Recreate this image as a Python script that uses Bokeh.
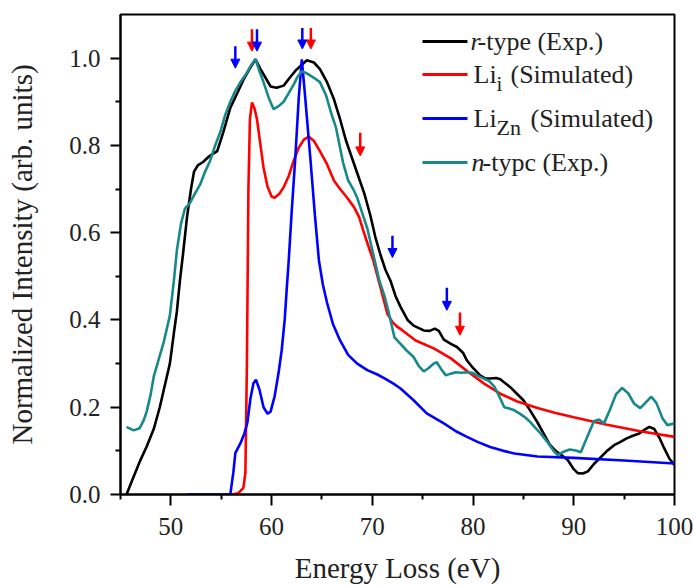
from bokeh.plotting import figure
from bokeh.models import (Arrow, NormalHead, Label, BoxAnnotation, ColumnDataSource,
                          Range1d, FixedTicker, NumeralTickFormatter)
from bokeh.embed import file_html
from bokeh.resources import INLINE

# ---------------- data ----------------
r_type_E = [45.6, 46.2, 47.0, 47.6, 48.3, 48.9, 49.5, 49.9, 50.3, 50.6, 50.9, 51.2, 51.6, 52.0,
            52.3, 52.7, 53.2, 53.8, 54.6, 55.2, 55.9, 56.6, 57.2, 57.8, 58.4, 58.9, 59.4, 59.9,
            60.5, 61.2, 61.8, 62.4, 63.0, 63.5, 64.2, 64.8, 65.5, 66.2, 66.8, 67.4, 68.0, 68.6,
            69.2, 69.8, 70.3, 70.8, 71.3, 71.8, 72.3, 72.8, 73.5, 74.1, 75.1, 75.7, 76.2, 76.6,
            77.1, 77.8, 78.4, 79.0, 79.4, 80.0, 80.7, 81.2, 81.7, 82.3, 82.7, 83.2, 83.7, 84.3,
            85.0, 85.6, 86.4, 87.0, 87.6, 88.2, 88.8, 89.4, 90.0, 90.4, 90.9, 91.4, 92.0, 92.7,
            93.3, 94.0, 94.6, 95.2, 95.8, 96.5, 97.0, 97.5, 98.0, 98.5, 99.0, 99.5, 100.0]
r_type_I = [0.0, 0.035, 0.08, 0.11, 0.15, 0.2, 0.26, 0.30, 0.37, 0.42, 0.49, 0.55, 0.635, 0.70,
            0.74, 0.755, 0.762, 0.775, 0.787, 0.83, 0.886, 0.92, 0.95, 0.975, 0.997, 0.975, 0.955, 0.935,
            0.932, 0.937, 0.955, 0.972, 0.985, 0.995, 0.99, 0.975, 0.945, 0.905, 0.86, 0.81, 0.77, 0.73,
            0.69, 0.64, 0.59, 0.55, 0.515, 0.49, 0.455, 0.43, 0.40, 0.387, 0.376, 0.375, 0.38, 0.375,
            0.355, 0.345, 0.338, 0.325, 0.307, 0.29, 0.273, 0.266, 0.266, 0.267, 0.264, 0.255, 0.246, 0.232,
            0.216, 0.195, 0.165, 0.14, 0.115, 0.10, 0.09, 0.079, 0.058, 0.049, 0.048, 0.053, 0.07, 0.086,
            0.10, 0.113, 0.12, 0.128, 0.134, 0.14, 0.148, 0.155, 0.15, 0.13, 0.105, 0.082, 0.068]

li_i_E = [56.0, 56.7, 57.2, 57.4, 57.55, 57.7, 57.85, 58.05, 58.3, 58.55, 58.9, 59.2, 59.6, 60.0,
          60.3, 60.8, 61.2, 61.7, 62.2, 62.7, 63.2, 63.7, 64.2, 64.8, 65.5, 66.2, 66.8, 67.5, 68.2,
          68.7, 69.1, 69.6, 70.1, 70.8, 71.5, 72.0, 72.5, 73.0, 74.3, 76.1, 77.8, 79.4, 81.1, 82.7,
          84.4, 86.4, 88.2, 90.0, 93.3, 96.6, 100.0]
li_i_I = [0.0, 0.003, 0.015, 0.05, 0.3, 0.7, 0.86, 0.898, 0.885, 0.86, 0.80, 0.749, 0.705, 0.683,
          0.68, 0.69, 0.704, 0.73, 0.765, 0.795, 0.813, 0.82, 0.81, 0.787, 0.757, 0.719, 0.70, 0.68, 0.658,
          0.635, 0.605, 0.57, 0.536, 0.475, 0.414, 0.395, 0.384, 0.376, 0.353, 0.335, 0.312, 0.283, 0.254, 0.231,
          0.213, 0.198, 0.187, 0.177, 0.16, 0.145, 0.132]

li_zn_E = [51.6, 55.9, 56.2, 56.4, 56.9, 57.3, 57.6, 57.9, 58.2, 58.45, 58.8, 59.2, 59.6, 59.9,
           60.3, 60.7, 61.0, 61.3, 61.5, 61.7, 62.0, 62.35, 62.7, 63.0, 63.3, 63.85, 64.3, 64.7,
           65.1, 65.5, 66.1, 66.8, 67.6, 68.5, 69.5, 70.5, 71.3, 72.1, 72.8, 74.1, 75.4, 77.1,
           78.3, 79.4, 80.5, 81.7, 83.0, 84.1, 86.4, 90.0, 95.0, 100.0]
li_zn_I = [0.0, 0.0, 0.05, 0.095, 0.117, 0.14, 0.165, 0.22, 0.255, 0.263, 0.24, 0.2, 0.185, 0.19,
           0.225, 0.28, 0.33, 0.40, 0.47, 0.536, 0.65, 0.77, 0.91, 0.997, 0.92, 0.77, 0.64, 0.536,
           0.48, 0.44, 0.39, 0.353, 0.32, 0.30, 0.285, 0.275, 0.265, 0.254, 0.243, 0.216, 0.186, 0.163,
           0.145, 0.132, 0.12, 0.109, 0.10, 0.094, 0.087, 0.084, 0.078, 0.071]

n_type_E = [45.6, 46.3, 46.9, 47.3, 47.6, 48.0, 48.3, 48.8, 49.3, 49.9, 50.3, 50.6, 51.0, 51.4,
            51.9, 52.4, 52.9, 53.4, 53.9, 54.4, 54.9, 55.4, 55.9, 56.4, 56.9, 57.5, 58.0, 58.4,
            58.8, 59.2, 59.7, 60.2, 60.7, 61.2, 61.7, 62.2, 62.6, 63.0, 63.5, 64.2, 64.8, 65.4,
            65.9, 66.4, 67.1, 67.6, 68.1, 68.5, 69.0, 69.5, 70.1, 70.7, 71.2, 71.6, 72.2, 72.8,
            73.4, 74.1, 74.6, 75.1, 75.6, 76.1, 76.4, 76.9, 77.3, 77.8, 78.3, 78.8, 79.4, 79.9,
            80.5, 81.0, 81.6, 82.1, 82.6, 83.1, 83.6, 84.1, 84.6, 85.1, 85.6, 86.1, 86.7, 87.4,
            88.0, 88.4, 89.0, 89.6, 90.2, 90.7, 91.3, 92.0, 92.5, 93.0, 93.6, 94.2, 94.8, 95.4,
            96.0, 96.6, 97.1, 97.7, 98.2, 98.8, 99.3, 100.0]
n_type_I = [0.155, 0.147, 0.152, 0.17, 0.19, 0.23, 0.27, 0.31, 0.35, 0.41, 0.49, 0.56, 0.62, 0.655,
            0.668, 0.69, 0.71, 0.74, 0.765, 0.80, 0.83, 0.87, 0.90, 0.925, 0.945, 0.965, 0.985, 0.998,
            0.97, 0.945, 0.91, 0.883, 0.89, 0.90, 0.92, 0.94, 0.958, 0.97, 0.965, 0.955, 0.945, 0.915,
            0.875, 0.84, 0.76, 0.72, 0.70, 0.68, 0.645, 0.61, 0.55, 0.49, 0.455, 0.42, 0.36, 0.345,
            0.33, 0.315, 0.295, 0.282, 0.29, 0.30, 0.303, 0.285, 0.273, 0.277, 0.28, 0.279, 0.28, 0.279,
            0.272, 0.266, 0.26, 0.248, 0.225, 0.20, 0.197, 0.193, 0.186, 0.178, 0.168, 0.155, 0.14, 0.12,
            0.10, 0.09, 0.098, 0.103, 0.101, 0.097, 0.13, 0.168, 0.172, 0.163, 0.195, 0.23, 0.244, 0.232,
            0.208, 0.198, 0.21, 0.224, 0.21, 0.175, 0.159, 0.163]

# feature-marker arrows: energy, top of arrow, tip of arrow, colour
arrow_E = [56.4, 58.05, 58.55, 63.05, 63.9, 68.8, 72.0, 77.4, 78.7]
arrow_top = [1.027, 1.066, 1.066, 1.069, 1.069, 0.829, 0.593, 0.474, 0.417]
arrow_tip = [0.977, 1.016, 1.016, 1.021, 1.021, 0.776, 0.543, 0.422, 0.365]
arrow_col = ["blue", "red", "blue", "blue", "red", "red", "blue", "blue", "red"]

x_ticks = [50, 60, 70, 80, 90, 100]
x_minor = [45, 55, 65, 75, 85, 95]
y_ticks = [0.0, 0.2, 0.4, 0.6, 0.8, 1.0]
y_minor = [0.1, 0.3, 0.5, 0.7, 0.9]

x_title = "Energy Loss (eV)"
y_title = "Normalized Intensity (arb. units)"

BLACK = "#000000"
RED = "#ff0000"
BLUE = "#0000ff"
TEAL = "#17898a"
FONT = "'Liberation Serif', 'Times New Roman', Times, serif"
TXT = "#222222"

p = figure(width=694, height=587, output_backend="svg", toolbar_location=None,
           x_range=Range1d(45, 100), y_range=Range1d(0, 1.1),
           min_border_left=120, min_border_right=20, min_border_top=14, min_border_bottom=93)
p.grid.visible = False
p.outline_line_color = "black"
p.outline_line_width = 2
p.background_fill_color = "white"
p.border_fill_color = "white"

p.line(r_type_E, r_type_I, line_color=BLACK, line_width=2.6)
p.line(li_i_E, li_i_I, line_color=RED, line_width=2.6)
p.line(li_zn_E, li_zn_I, line_color=BLUE, line_width=2.6)
p.line(n_type_E, n_type_I, line_color=TEAL, line_width=2.6)

for col, hexcol in (("red", RED), ("blue", BLUE)):
    idx = [i for i, c in enumerate(arrow_col) if c == col]
    src = ColumnDataSource(dict(x=[arrow_E[i] for i in idx],
                                y0=[arrow_top[i] for i in idx],
                                y1=[arrow_tip[i] for i in idx]))
    p.add_layout(Arrow(end=NormalHead(size=9, fill_color=hexcol, line_color=hexcol, line_width=1),
                       x_start="x", y_start="y0", x_end="x", y_end="y1", source=src,
                       line_color=hexcol, line_width=2.5))

# axes
xa = p.xaxis[0]
ya = p.yaxis[0]
xa.ticker = FixedTicker(ticks=x_ticks, minor_ticks=x_minor)
ya.ticker = FixedTicker(ticks=y_ticks, minor_ticks=y_minor)
ya.formatter = NumeralTickFormatter(format="0.0")
for ax in (xa, ya):
    ax.axis_line_width = 2
    ax.axis_line_color = "black"
    ax.major_tick_line_width = 2
    ax.minor_tick_line_width = 2
    ax.major_tick_in = 0
    ax.minor_tick_in = 0
    ax.minor_tick_out = 5
    ax.major_label_text_font = FONT
    ax.major_label_text_font_size = "25px"
    ax.major_label_text_color = TXT
    ax.axis_label_text_font = FONT
    ax.axis_label_text_font_size = "29px"
    ax.axis_label_text_font_style = "normal"
    ax.axis_label_text_color = TXT
xa.major_tick_out = 11
ya.major_tick_out = 10
xa.axis_label = x_title
ya.axis_label = y_title
xa.major_label_standoff = 12
ya.major_label_standoff = 10
xa.axis_label_standoff = 14
ya.axis_label_standoff = 28

# manual legend (screen units relative to the frame)
leg = [
    (BLACK, 453, [("r", 350, 0, "italic", 26), ("-type (Exp.)", 357, 0, "normal", 26)]),
    (RED, 420, [("Li", 353, 0, "normal", 26), ("i", 376, -9, "normal", 21),
                ("(Simulated)", 390, 0, "normal", 26)]),
    (BLUE, 376, [("Li", 353, 0, "normal", 26), ("Zn", 376, -9, "normal", 22),
                 ("(Simulated)", 410, 0, "normal", 26)]),
    (TEAL, 332, [("n", 351, 0, "italic", 26), ("-typc (Exp.)", 362, 0, "normal", 26)]),
]
for col, ly, parts in leg:
    p.add_layout(BoxAnnotation(left=302, right=347, bottom=ly - 1.5, top=ly + 1.5,
                               left_units="screen", right_units="screen",
                               bottom_units="screen", top_units="screen",
                               fill_color=col, fill_alpha=1.0, line_alpha=0))
    for txt, lx, dy, style, size in parts:
        p.add_layout(Label(x=lx, y=ly + dy, x_units="screen", y_units="screen", text=txt,
                           text_font=FONT, text_font_size=f"{size}px", text_font_style=style,
                           text_color=TXT, text_baseline="middle", text_align="left"))

open("out.html", "w").write(file_html(p, INLINE))
